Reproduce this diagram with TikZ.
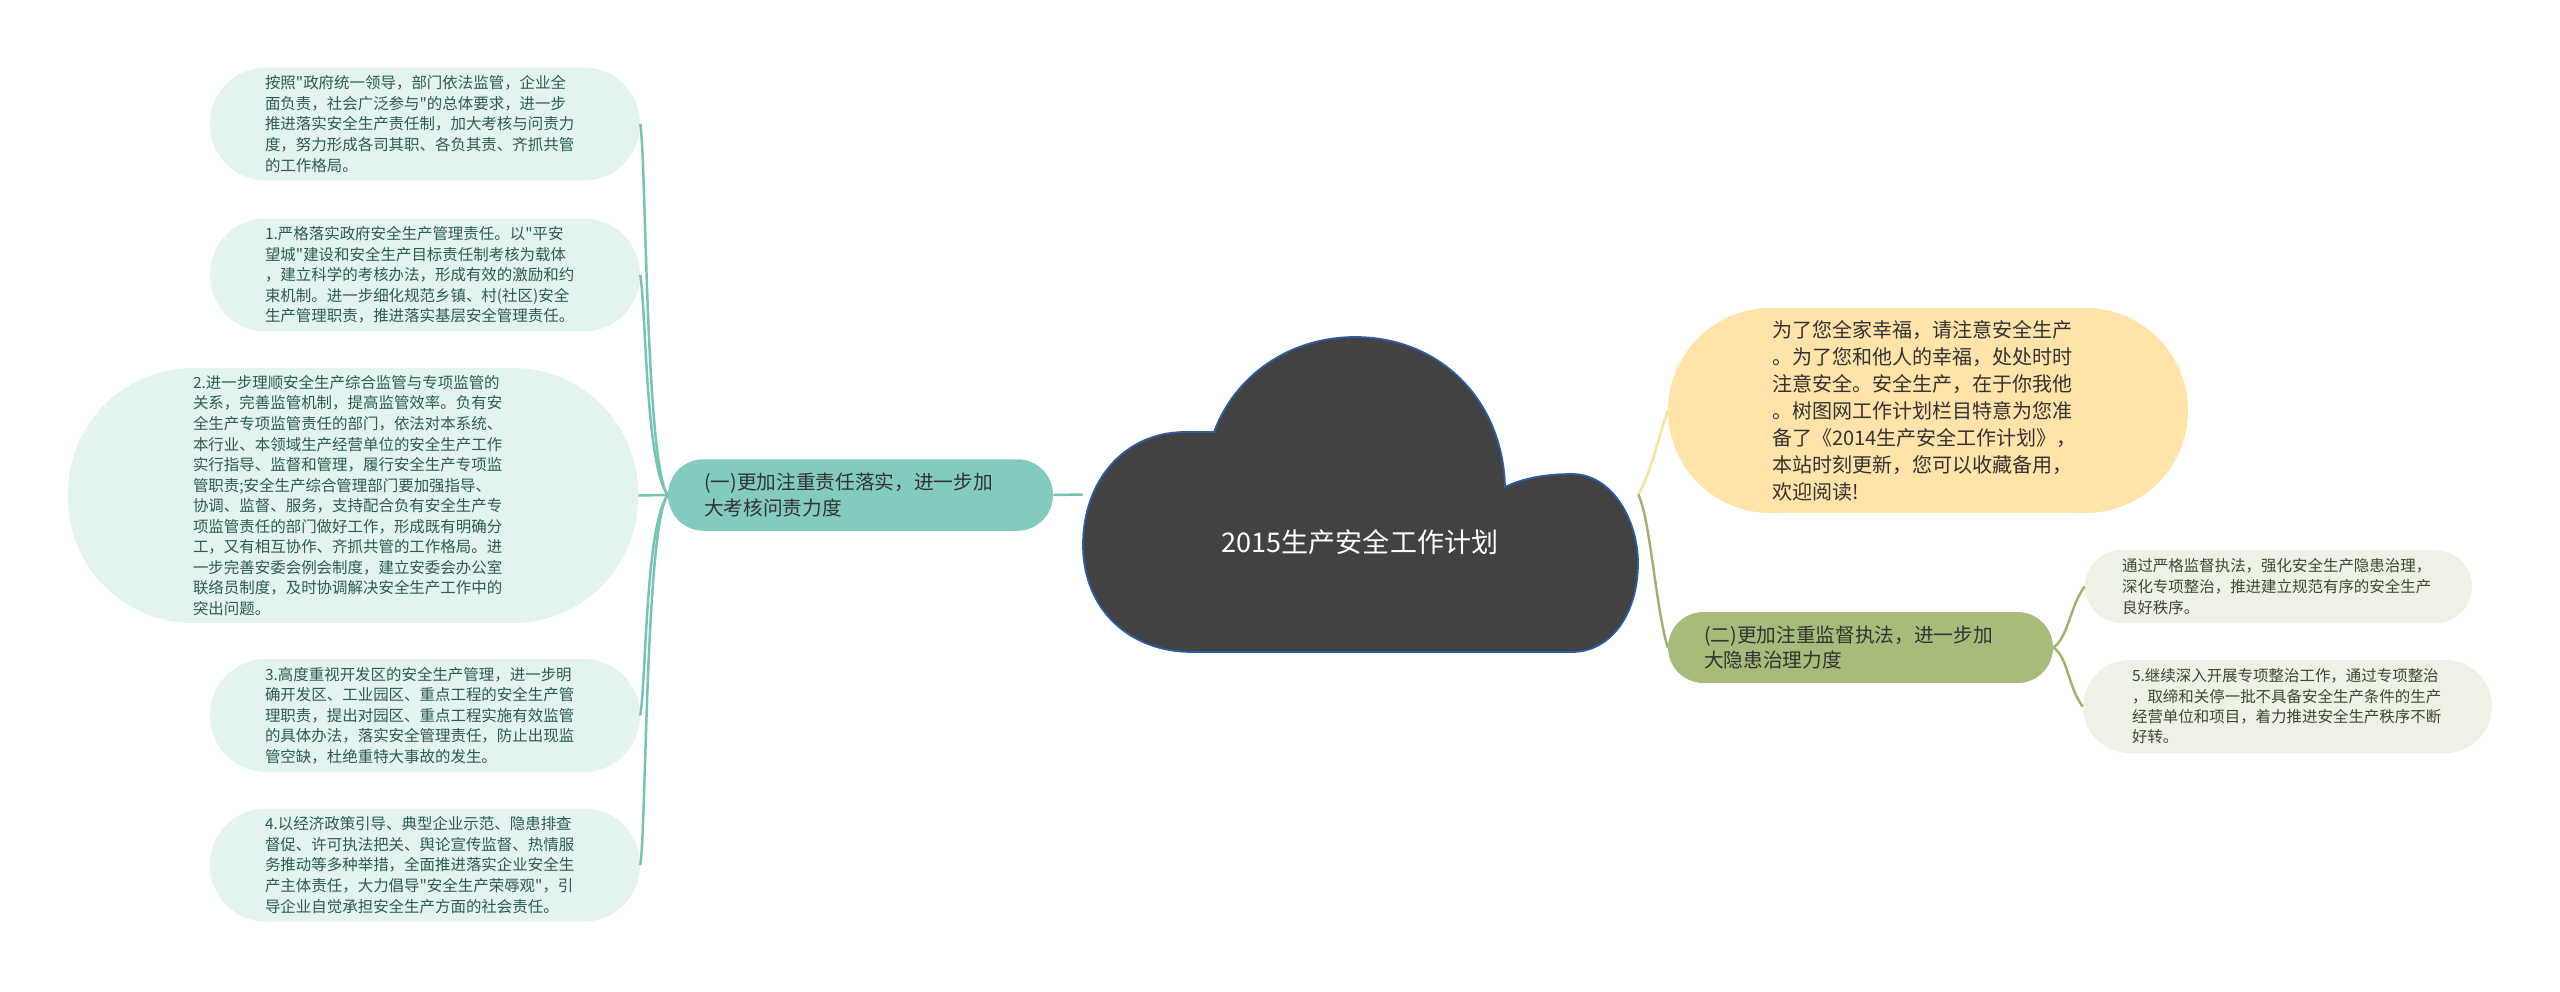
\documentclass[tikz,border=0pt]{standalone}
\usepackage{fontspec}
\setmainfont{Noto Sans CJK SC}[Ligatures=TeXOff]
\usepackage{tikz}
\usetikzlibrary{positioning, calc}

\definecolor{leafteal}{HTML}{E3F3EF}
\definecolor{textteal}{HTML}{2E5B50}
\definecolor{nodeteal}{HTML}{82CBBE}
\definecolor{lineteal}{HTML}{74C3B3}
\definecolor{nodeyellow}{HTML}{FFE3A8}
\definecolor{lineyellow}{HTML}{FCE0A2}
\definecolor{nodegreen}{HTML}{A7BC7A}
\definecolor{linegreen}{HTML}{9EB46E}
\definecolor{leafgreen}{HTML}{EEF1E5}
\definecolor{textgreen}{HTML}{3E4832}
\definecolor{cloudfill}{HTML}{424242}
\definecolor{cloudedge}{HTML}{2E5DA8}

\begin{document}
\begin{tikzpicture}[
    x=0.02cm, y=-0.02cm,
    every node/.style={inner sep=0pt, align=left},
    leafL/.style={fill=leafteal, text=textteal, rounded corners=1.12cm,
        minimum width=8.6cm, minimum height=2.26cm, text width=6.4cm,
        font=\fontsize{8.8}{11.7}\selectfont},
    leafR/.style={fill=leafgreen, text=textgreen,
        text width=6.26cm, font=\fontsize{8.8}{11.6}\selectfont},
    branch/.style={minimum width=7.7cm, minimum height=1.43cm,
        rounded corners=0.71cm, text width=6.26cm,
        font=\fontsize{11.2}{14.6}\selectfont},
    tline/.style={draw=lineteal, line width=1.4pt},
    gline/.style={draw=linegreen, line width=1.4pt},
    yline/.style={draw=lineyellow, line width=1.4pt}
]
\fill[white] (0,0) rectangle (2560,991);
\useasboundingbox (0,0) rectangle (2560,991);

% ========== 中心主题（云形） ==========
\node[minimum width=11.1cm, minimum height=6.3cm] (root) at (1360.5,494.5) {};
\draw[fill=cloudfill, draw=cloudedge, line width=1pt]
    (1214,432) .. controls (1235,375) and (1290,337) .. (1355,337)
    .. controls (1440,337) and (1503,400) .. (1505,487)
    .. controls (1525,477) and (1550,474) .. (1572,474)
    .. controls (1612,474) and (1638,520) .. (1638,563)
    .. controls (1638,615) and (1610,652) .. (1572,652)
    -- (1192,652)
    .. controls (1130,652) and (1083,610) .. (1083,545)
    .. controls (1083,480) and (1125,432) .. (1185,432)
    -- cycle;
\node[text=white, font=\fontsize{15.4}{18}\selectfont] (title) at (1360,542) {2015生产安全工作计划};

% ========== 左侧分支 ==========
\node[branch, fill=nodeteal, text=black!80] (lnode) at (860.5,495)
    {(一)更加注重责任落实，进一步加\\大考核问责力度};

\node[leafL] (l0) at (425,124)
    {按照"政府统一领导，部门依法监管，企业全\\面负责，社会广泛参与"的总体要求，进一步\\推进落实安全生产责任制，加大考核与问责力\\度，努力形成各司其职、各负其责、齐抓共管\\的工作格局。};
\node[leafL] (l1) at (425,275)
    {1.严格落实政府安全生产管理责任。以"平安\\望城"建设和安全生产目标责任制考核为载体\\，建立科学的考核办法，形成有效的激励和约\\束机制。进一步细化规范乡镇、村(社区)安全\\生产管理职责，推进落实基层安全管理责任。};
\node[leafL, minimum width=11.4cm, minimum height=5.1cm, rounded corners=2.5cm] (l2) at (353,495.5)
    {2.进一步理顺安全生产综合监管与专项监管的\\关系，完善监管机制，提高监管效率。负有安\\全生产专项监管责任的部门，依法对本系统、\\本行业、本领域生产经营单位的安全生产工作\\实行指导、监督和管理，履行安全生产专项监\\管职责;安全生产综合管理部门要加强指导、\\协调、监督、服务，支持配合负有安全生产专\\项监管责任的部门做好工作，形成既有明确分\\工，又有相互协作、齐抓共管的工作格局。进\\一步完善安委会例会制度，建立安委会办公室\\联络员制度，及时协调解决安全生产工作中的\\突出问题。};
\node[leafL] (l3) at (425,715.5)
    {3.高度重视开发区的安全生产管理，进一步明\\确开发区、工业园区、重点工程的安全生产管\\理职责，提出对园区、重点工程实施有效监管\\的具体办法，落实安全管理责任，防止出现监\\管空缺，杜绝重特大事故的发生。};
\node[leafL] (l4) at (425,865)
    {4.以经济政策引导、典型企业示范、隐患排查\\督促、许可执法把关、舆论宣传监督、热情服\\务推动等多种举措，全面推进落实企业安全生\\产主体责任，大力倡导"安全生产荣辱观"，引\\导企业自觉承担安全生产方面的社会责任。};

\draw[tline] (lnode.east) -- (root.west);
\draw[tline] (lnode.west) .. controls +(-22,-30) and +(6,40) .. (l0.east);
\draw[tline] (lnode.west) .. controls +(-22,-30) and +(6,40) .. (l1.east);
\draw[tline] (lnode.west) -- (l2.east);
\draw[tline] (lnode.west) .. controls +(-22,30) and +(6,-40) .. (l3.east);
\draw[tline] (lnode.west) .. controls +(-22,30) and +(6,-40) .. (l4.east);

% ========== 右侧分支 ==========
\node[fill=nodeyellow, text=black!80, minimum width=10.4cm, minimum height=4.1cm,
      rounded corners=2.05cm, text width=6.24cm,
      font=\fontsize{11.4}{15.4}\selectfont] (ynode) at (1928,410.5)
    {为了您全家幸福，请注意安全生产\\。为了您和他人的幸福，处处时时\\注意安全。安全生产，在于你我他\\。树图网工作计划栏目特意为您准\\备了《2014生产安全工作计划》，\\本站时刻更新，您可以收藏备用，\\欢迎阅读!};

\node[branch, fill=nodegreen, text=black!80, minimum height=1.42cm,
      font=\fontsize{11.2}{14.2}\selectfont] (gnode) at (1860.5,647.5)
    {(二)更加注重监督执法，进一步加\\大隐患治理力度};

\node[leafR, minimum width=7.74cm, minimum height=1.46cm, rounded corners=0.73cm,
      font=\fontsize{8.8}{12}\selectfont] (r0) at (2278.5,586.5)
    {通过严格监督执法，强化安全生产隐患治理，\\深化专项整治，推进建立规范有序的安全生产\\良好秩序。};
\node[leafR, minimum width=8.18cm, minimum height=1.86cm, rounded corners=0.93cm,
      text width=6.22cm] (r1) at (2287.5,706.5)
    {5.继续深入开展专项整治工作，通过专项整治\\，取缔和关停一批不具备安全生产条件的生产\\经营单位和项目，着力推进安全生产秩序不断\\好转。};

\draw[yline] (root.east) .. controls +(12,-20) and +(-10,30) .. (ynode.west);
\draw[gline] (root.east) .. controls +(12,25) and +(-12,-40) .. (gnode.west);
\draw[gline] (gnode.east) .. controls +(15,-10) and +(-15,20) .. (r0.west);
\draw[gline] (gnode.east) .. controls +(15,10) and +(-15,-20) .. (r1.west);

\end{tikzpicture}
\end{document}
